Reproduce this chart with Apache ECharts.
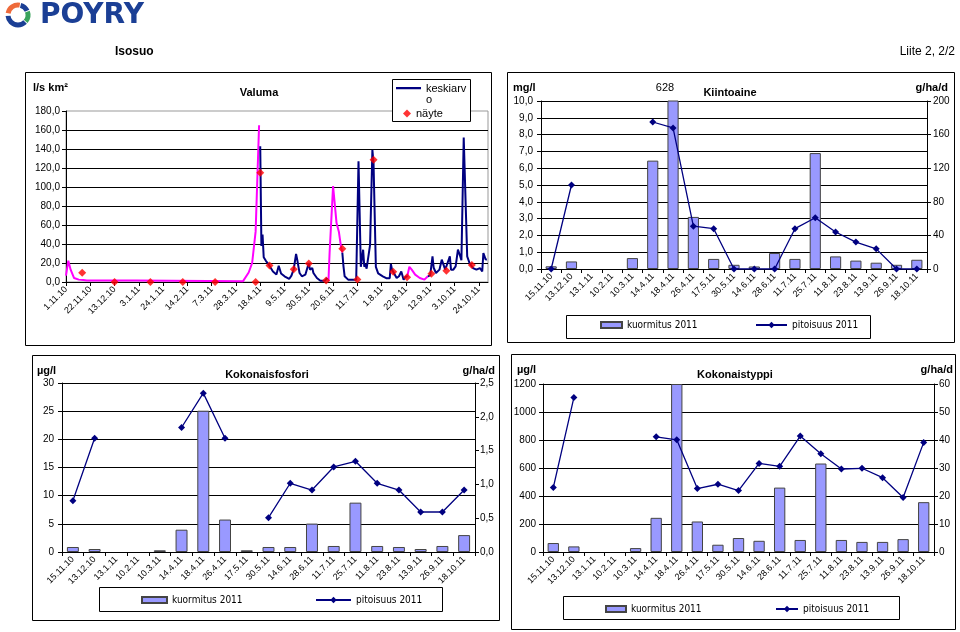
<!DOCTYPE html>
<html><head><meta charset="utf-8">
<script src="https://cdn.jsdelivr.net/npm/echarts@6/dist/echarts.min.js"></script>
<style>html,body{margin:0;padding:0;background:#fff}#c{width:960px;height:632px}</style>
</head><body><div id="c"></div>
<script>
// ---------- DATA ----------
// Valuma x-axis tick labels (every 21 days from 1.11.2010)
const valumaTicks = ['1.11.10','22.11.10','13.12.10','3.1.11','24.1.11','14.2.11','7.3.11','28.3.11','18.4.11','9.5.11','30.5.11','20.6.11','11.7.11','1.8.11','22.8.11','12.9.11','3.10.11','24.10.11'];
// Valuma, estimated parts (magenta); days since 1.11.2010, null = break
const arvioDays   = [0,2,4,7,11,15,18,61,62,153,158,161,164,167,197,227,228,229,231,232,234,236,238,239,270,295,297,298,299,302,306,310,313];
const arvioValues = [6.7,22.5,13,4.2,2.5,2.1,1.5,1.5,0.7,0.7,10,20,53,165,null,1,31,32,101,100,62,53,36,31,null,5,16,15,13,7.7,4.2,2.5,6];
// Valuma, keskiarvo (navy)
const keskiarvoDays   = [168,169,170,171,173,174,175,176,179,182,184,186,189,193,195,197,199,200,202,204,207,210,211,213,214,217,220,224,226,232,239,240,241,244,251,252,253,255,256,257,258,259,260,261,263,265,266,268,270,274,277,280,281,282,283,286,288,290,292,294,295,304,313,315,316,317,318,320,323,325,326,328,330,332,333,335,337,339,341,342,344,347,349,352,355,358,360,361,363,364];
const keskiarvoValues = [143,38,50,26,22,24,19,17,11,8,17,9,6,3.2,6.7,13.7,29.5,23.5,9.5,6,7.7,20,13,14.7,9.5,4.2,1.4,1.4,4.2,null,31,16.5,6,2.5,2.5,3,127,16,15,34,16,19,14,13,39,139,125,16,9,6,4,4,19,13,11,4.2,6,11,2.5,6,5,null,6,7,9,27,15,9.5,13,23.5,22,13,20,27,13,13,16.5,34,27,23,152,27,20,14.7,13,14.7,11.2,30.5,23.5,24];
// Sampling dates (categories) and näyte values
const kategoriat = ['15.11.10','13.12.10','13.1.11','10.2.11','10.3.11','14.4.11','18.4.11','26.4.11','17.5.11','30.5.11','14.6.11','28.6.11','11.7.11','25.7.11','11.8.11','23.8.11','13.9.11','26.9.11','18.10.11'];
const nayteValues = [9.8,0,0,0,0,0,115,17.5,13.3,19.6,1.7,35,2.7,128.7,10.8,4.9,8.7,11.9,17.9];
// Kiintoaine
const kiintoaineKuormitus = [3.2,9,null,null,13,129,628,62,12,5,3,19,12,138,15,10,7.5,5,11];
const kiintoainePitoisuus = [0,5.0,null,null,null,8.75,8.4,2.55,2.4,0,0,0,2.4,3.05,2.2,1.6,1.2,0,0];
// Kokonaisfosfori
const fosforiKuormitus = [0.074,0.044,null,null,0.025,0.33,2.09,0.48,0.025,0.074,0.074,0.42,0.089,0.73,0.089,0.074,0.044,0.089,0.25];
const fosforiPitoisuus = [9.1,20.2,null,null,null,22.1,28.2,20.2,null,6.1,12.2,11.0,15.1,16.1,12.2,11.0,7.1,7.1,11.0];
// Kokonaistyppi
const typpiKuormitus = [3.2,2.0,null,null,1.4,12.2,60,10.9,2.6,5.0,4.0,23.0,4.3,31.6,4.3,3.6,3.6,4.6,17.8];
const typpiPitoisuus = [460,1103,null,null,null,823,801,453,484,439,633,612,828,702,593,598,531,389,783];

// ---------- HELPERS ----------
const FONT = "'Liberation Sans', Arial, sans-serif";
const NARROW = "'Liberation Sans Narrow', 'DejaVu Sans Condensed', 'Liberation Sans', sans-serif";
const NAVY = '#000080';
const BAR = '#9999ff';
const fmt1 = v => v.toFixed(1).replace('.', ',');
const dayIndex = s => { const p = s.split('.').map(Number); return Math.round((Date.UTC(2000 + p[2], p[1] - 1, p[0]) - Date.UTC(2010, 10, 1)) / 86400000); };
const pairs = (d, v) => d.map((x, i) => [x, v[i] === null ? '-' : v[i]]);

function catX(gi) {
  return { type: 'category', gridIndex: gi, data: kategoriat, boundaryGap: true,
    axisLine: { show: true, lineStyle: { color: '#000', width: 1 } },
    axisTick: { show: true, length: 4, lineStyle: { color: '#000' } },
    axisLabel: { interval: 0, rotate: 45, fontSize: 9, fontFamily: FONT, color: '#000', margin: 6 },
    splitLine: { show: false } };
}
function valY(gi, pos, min, max, interval, fmt, split, margin) {
  return { type: 'value', gridIndex: gi, position: pos, min, max, interval,
    axisLine: { show: true, lineStyle: { color: '#000', width: 1 } },
    axisTick: { show: true, length: 4, lineStyle: { color: '#000' } },
    axisLabel: { fontSize: 10, fontFamily: FONT, color: '#000', margin, formatter: fmt },
    splitLine: { show: split, lineStyle: { color: '#000', width: 1 } } };
}
function txt(x, y, text, o) {
  return { type: 'text', x, y, z: 10, style: Object.assign({ text, fill: '#000', fontFamily: FONT, fontSize: 11, fontWeight: 'bold', align: 'left', verticalAlign: 'middle' }, o || {}) };
}
function box(x, y, w, h, z, fill) {
  return { type: 'rect', z: z, shape: { x, y, width: w, height: h }, style: { fill: fill || 'none', stroke: '#000', lineWidth: 1 } };
}
function arc(r0, a0, a1, color) {
  return { type: 'arc', z: 10, shape: { cx: 18, cy: 15, r: r0, startAngle: a0 * Math.PI / 180, endAngle: a1 * Math.PI / 180, clockwise: true }, style: { stroke: color, lineWidth: 5, fill: 'none' } };
}
const barSeries = (name, xi, yi, data) => ({ name, type: 'bar', xAxisIndex: xi, yAxisIndex: yi, data, barWidth: '55%', clip: true,
  itemStyle: { color: BAR, borderColor: '#444', borderWidth: 1 }, z: 2 });
const lineSeries = (name, xi, yi, data) => ({ name, type: 'line', xAxisIndex: xi, yAxisIndex: yi, data, connectNulls: false,
  symbol: 'diamond', symbolSize: 7, showSymbol: true, lineStyle: { color: NAVY, width: 1.3 }, itemStyle: { color: NAVY }, z: 5 });

const legendBase = { orient: 'horizontal', padding: 0, itemGap: 0, textStyle: { fontSize: 10, fontFamily: NARROW, color: '#000' }, selectedMode: false };
function leg(name, left, top, w, h, icon) {
  return Object.assign({}, legendBase, { data: [name], left, top, itemWidth: w, itemHeight: h, icon });
}

const chart = echarts.init(document.getElementById('c'), null, { renderer: 'canvas', width: 960, height: 632 });

const option = {
  animation: false,
  backgroundColor: '#fff',
  grid: [
    { left: 66, top: 111, width: 422, height: 171, show: true, borderColor: '#999', borderWidth: 1, backgroundColor: 'transparent', outerBoundsMode: 'none', containLabel: false },
    { left: 541, top: 101, width: 386, height: 168, outerBoundsMode: 'none', containLabel: false },
    { left: 62, top: 383, width: 413, height: 169, outerBoundsMode: 'none', containLabel: false },
    { left: 543, top: 384, width: 391, height: 168, outerBoundsMode: 'none', containLabel: false }
  ],
  xAxis: [
    { type: 'value', gridIndex: 0, min: 0, max: 365, interval: 21,
      axisLine: { show: true, lineStyle: { color: '#000' } },
      axisTick: { show: true, length: 4, lineStyle: { color: '#000' } },
      axisLabel: { rotate: 45, fontSize: 9, fontFamily: FONT, color: '#000', margin: 6, showMaxLabel: false,
        formatter: v => (v % 21 === 0 ? valumaTicks[v / 21] : '') },
      splitLine: { show: false } },
    catX(1), catX(2), catX(3)
  ],
  yAxis: [
    Object.assign(valY(0, 'left', 0, 180, 20, fmt1, true, 6), { splitLine: { show: true, showMaxLine: false, lineStyle: { color: '#000', width: 1 } } }),
    valY(1, 'left', 0, 10, 1, fmt1, true, 8),
    valY(1, 'right', 0, 200, 40, v => String(v), false, 6),
    valY(2, 'left', 0, 30, 5, v => String(v), true, 8),
    valY(2, 'right', 0, 2.5, 0.5, fmt1, false, 5),
    valY(3, 'left', 0, 1200, 200, v => String(v), true, 7),
    valY(3, 'right', 0, 60, 10, v => String(v), false, 5)
  ],
  legend: [
    Object.assign({}, legendBase, { data: ['keskiarvo'], left: 396, top: 83, itemWidth: 25, itemHeight: 14.1,
      icon: 'path://M0,0L25,0L25,2.2L0,2.2Z M0,14L0.1,14L0.1,14.1L0,14.1Z', formatter: () => 'keskiarv\no',
      textStyle: { fontSize: 11, fontFamily: FONT, color: '#000', lineHeight: 11 } }),
    Object.assign({}, legendBase, { data: ['näyte'], left: 403, top: 108, itemWidth: 8, itemHeight: 8, icon: 'diamond',
      textStyle: { fontSize: 11, fontFamily: FONT, color: '#000', lineHeight: 11 } }),
    leg('kuormitus 2011', 600, 320, 21, 6, 'rect'),
    leg('pitoisuus 2011', 755, 320, 31, 8),
    leg('kuormitus 2011', 141, 595, 25, 6, 'rect'),
    leg('pitoisuus 2011', 315, 595, 35, 8),
    leg('kuormitus 2011', 605, 604, 20, 6, 'rect'),
    leg('pitoisuus 2011', 775, 604, 22, 8)
  ],
  series: [
    { name: 'arvio', type: 'line', xAxisIndex: 0, yAxisIndex: 0, data: pairs(arvioDays, arvioValues), connectNulls: false,
      symbol: 'none', lineStyle: { color: '#ff00ff', width: 2 }, itemStyle: { color: '#ff00ff' }, z: 3 },
    { name: 'keskiarvo', type: 'line', xAxisIndex: 0, yAxisIndex: 0, data: pairs(keskiarvoDays, keskiarvoValues), connectNulls: false,
      symbol: 'none', lineStyle: { color: NAVY, width: 2 }, itemStyle: { color: NAVY }, z: 4 },
    { name: 'näyte', type: 'scatter', xAxisIndex: 0, yAxisIndex: 0, data: kategoriat.map((c, i) => [dayIndex(c), nayteValues[i]]),
      symbol: 'diamond', symbolSize: 8, itemStyle: { color: '#ff0000' }, z: 6 },
    barSeries('kuormitus 2011', 1, 2, kiintoaineKuormitus),
    lineSeries('pitoisuus 2011', 1, 1, kiintoainePitoisuus),
    barSeries('kuormitus 2011', 2, 4, fosforiKuormitus),
    lineSeries('pitoisuus 2011', 2, 3, fosforiPitoisuus),
    barSeries('kuormitus 2011', 3, 6, typpiKuormitus),
    lineSeries('pitoisuus 2011', 3, 5, typpiPitoisuus)
  ],
  graphic: [
    // logo
    arc(10, 190, 280, '#ee6a3a'), arc(10, 285, 335, '#1b3f95'), arc(10, 340, 40, '#3aa35c'), arc(10, 45, 175, '#1b3f95'),
    txt(40, 16, 'PÖYRY', { fontFamily: "'DejaVu Sans', sans-serif", fontSize: 28, fill: '#1b3f95' }),
    txt(115, 52, 'Isosuo', { fontSize: 12 }),
    txt(955, 52, 'Liite 2, 2/2', { fontSize: 12, fontWeight: 'normal', align: 'right', fontFamily: FONT }),
    // panels
    box(25.5, 72.5, 466, 273, 0), box(507.5, 72.5, 447, 270, 0), box(32.5, 355.5, 467, 265, 0), box(511.5, 354.5, 444, 275, 0),
    // legend boxes
    box(392.5, 79.5, 78, 42, 3, '#fff'), box(566.5, 315.5, 304, 23, 0), box(99.5, 587.5, 343, 24, 0), box(563.5, 596.5, 336, 23, 0),
    // titles & units
    txt(33, 88, 'l/s km²'), txt(259, 93, 'Valuma', { align: 'center' }),
    txt(513, 88, 'mg/l'), txt(665, 88, '628', { align: 'center', fontWeight: 'normal' }), txt(730, 93, 'Kiintoaine', { align: 'center' }), txt(948, 88, 'g/ha/d', { align: 'right' }),
    txt(37, 371, 'µg/l'), txt(267, 375, 'Kokonaisfosfori', { align: 'center' }), txt(495, 371, 'g/ha/d', { align: 'right' }),
    txt(517, 370, 'µg/l'), txt(735, 375, 'Kokonaistyppi', { align: 'center' }), txt(953, 370, 'g/ha/d', { align: 'right' })
  ]
};
chart.setOption(option);
</script>
</body></html>
